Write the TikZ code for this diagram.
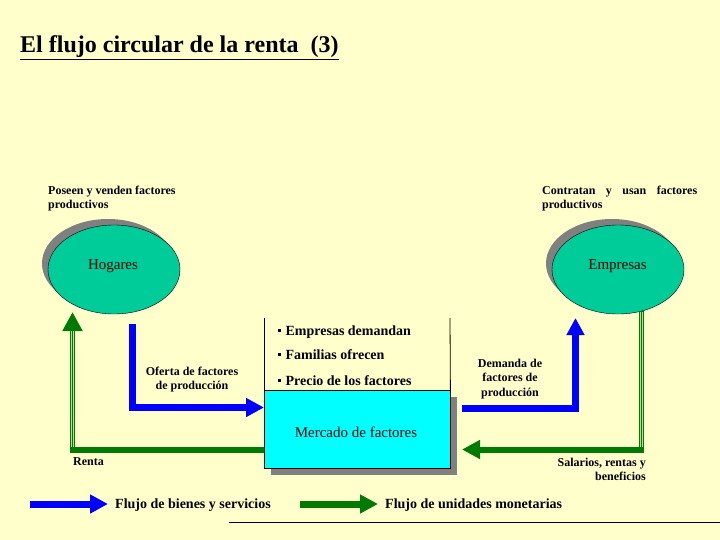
\documentclass[tikz,border=0pt]{standalone}
\usepackage{fontspec}
\setmainfont{Liberation Serif}
\usetikzlibrary{shapes.geometric,arrows.meta}
\definecolor{bg}{HTML}{FFFFCC}
\definecolor{ellgreen}{HTML}{00CC99}
\definecolor{flowblue}{HTML}{0000FF}
\definecolor{flowgreen}{HTML}{007A00}
\definecolor{shadowgray}{HTML}{808080}
\definecolor{mcyan}{HTML}{00FFFF}
\definecolor{lightline}{HTML}{B8DDA0}
\begin{document}
\begin{tikzpicture}[x=1pt,y=-1pt,
  txt/.style={inner sep=0pt, font=\fontsize{12}{14}\selectfont\bfseries},
  midtxt/.style={inner sep=0pt, font=\fontsize{14}{16}\selectfont\bfseries},
  bigtxt/.style={inner sep=0pt, font=\fontsize{15}{17}\selectfont},
  legtxt/.style={inner sep=0pt, font=\fontsize{14}{16}\selectfont\bfseries},
  oval/.style={ellipse, draw=black, fill=ellgreen, minimum width=132pt, minimum height=89pt, inner sep=0pt},
  ovalshadow/.style={shadowgray},
  blueflow/.style={flowblue, line width=7pt},
  greenflow/.style={flowgreen, line width=6pt},
  stripe/.style={lightline, line width=0.8pt},
  bul/.style={inner sep=0pt, anchor=base west}
]
\fill[bg] (0,0) rectangle (720,540);
\useasboundingbox (0,0) rectangle (720,540);

% title
\node[inner sep=0pt, anchor=base west, font=\fontsize{24}{28}\selectfont\bfseries] (title) at (20,53) {\underline{El flujo circular de la renta\ \ (3)}};

% ovals
\fill[ovalshadow] (108,263.5) ellipse [x radius=66, y radius=44.5];
\node[oval] (hog) at (114,269.5) {};
\fill[ovalshadow] (612,263.5) ellipse [x radius=66, y radius=44.5];
\node[oval] (emp) at (618,269.5) {};
\node[bigtxt, anchor=base] (hogt) at (113,269) {Hogares};
\node[bigtxt, anchor=base] (empt) at (617.5,269) {Empresas};

% descriptions
\node[txt, anchor=base west] (pos1) at (48,195) {Poseen y venden factores};
\node[txt, anchor=base west] (pos2) at (48,209) {productivos};
\node[txt, anchor=base west] (con1) at (542,195) {\makebox[155pt][s]{Contratan y usan factores}};
\node[txt, anchor=base west] (con2) at (542,209) {productivos};

% market
\node[draw=black, fill=mcyan, minimum width=186pt, minimum height=78pt, inner sep=0pt, anchor=north west] (mer) at (264,390) {};
\fill[shadowgray] ([shift={(7,7)}]mer.south west) rectangle ([shift={(7,7)}]mer.north east);
\node[draw=black, fill=mcyan, minimum width=186pt, minimum height=78pt, inner sep=0pt, anchor=north west] (mer) at (264,390) {};
\coordinate (pl) at (264,318);
\coordinate (pr) at (450,318);
\draw[black, line width=0.8pt] (pl) -- (mer.north west);
\draw[black, line width=0.8pt] (pr) -- (mer.north east);
\node[bigtxt, anchor=base] (mert) at (356,437) {Mercado de factores};

\node[midtxt, bul] (b1) at (278,335) {\raisebox{3.5pt}{\rule{2.4pt}{2.4pt}}\hspace{5pt}Empresas demandan};
\node[midtxt, bul] (b2) at (278,359) {\raisebox{3.5pt}{\rule{2.4pt}{2.4pt}}\hspace{5pt}Familias ofrecen};
\node[midtxt, bul] (b3) at (278,385) {\raisebox{3.5pt}{\rule{2.4pt}{2.4pt}}\hspace{5pt}Precio de los factores};

% left blue flow
\coordinate (lbs) at (132.5,324);
\draw[blueflow, -{Triangle[length=18pt,width=18pt]}] (lbs) |- (mer.west |- 0,407.5);
\node[txt, anchor=base] (of1) at (192,375) {Oferta de factores};
\node[txt, anchor=base] (of2) at (192,389) {de producción};

% right blue flow
\coordinate (rbs) at (462,408.5);
\coordinate (rbe) at (575.5,318);
\draw[blueflow, line width=6.5pt, -{Triangle[length=17pt,width=17pt]}] (rbs) -| (rbe);
\node[txt, anchor=base] (de1) at (510,367) {Demanda de};
\node[txt, anchor=base] (de2) at (510,381) {factores de};
\node[txt, anchor=base] (de3) at (510,396) {producción};

% left green flow
\coordinate (lgc) at (72.5,450);
\coordinate (lgt) at (72.5,312);
\draw[greenflow] (mer.west |- lgc) -- (69.5,450);
\draw[greenflow, line width=5.5pt, -{Triangle[length=19pt,width=19pt]}] (72.5,453) -- (lgt);
\draw[stripe] (71.4,447) -- (71.4,331);
\draw[stripe] (73.6,447) -- (73.6,331);
\node[txt, anchor=base west] (renta) at (73,465) {Renta};

% right green flow
\coordinate (rgs) at (641.5,311);
\coordinate (rgc) at (641.5,449.5);
\coordinate (rgt) at (462,449.5);
\draw[greenflow, line width=5.5pt] (rgs) -- (641.5,452.5);
\draw[stripe] (640.4,312) -- (640.4,447);
\draw[stripe] (642.6,312) -- (642.6,447);
\draw[greenflow, -{Triangle[length=18pt,width=18pt]}] (644.25,449.5) -- (rgt);
\node[txt, anchor=base east] (sal1) at (646,466) {Salarios, rentas y};
\node[txt, anchor=base east] (sal2) at (646,480) {beneficios};

% legend
\coordinate (lb1) at (30,504);
\coordinate (lb2) at (108,504);
\draw[blueflow, -{Triangle[length=18pt,width=18pt]}] (lb1) -- (lb2);
\node[legtxt, anchor=base west] (leg1) at (115,508) {Flujo de bienes y servicios};
\coordinate (lg1) at (300,504);
\coordinate (lg2) at (378,504);
\draw[greenflow, line width=7pt, -{Triangle[length=18pt,width=18pt]}] (lg1) -- (lg2);
\node[legtxt, anchor=base west] (leg2) at (385,508) {Flujo de unidades monetarias};
\coordinate (ln1) at (229,522);
\coordinate (ln2) at (720,522);
\draw[black, line width=1pt] (ln1) -- (ln2);
\end{tikzpicture}
\end{document}
